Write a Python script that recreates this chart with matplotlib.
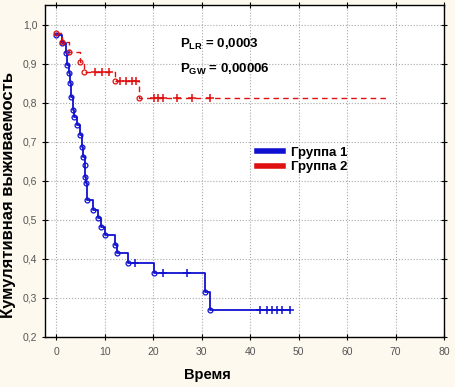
import numpy as np
import matplotlib
matplotlib.use("Agg")
import matplotlib.pyplot as plt
from matplotlib.lines import Line2D
from matplotlib.ticker import FuncFormatter

plt.rcParams['font.family'] = ['Liberation Sans', 'DejaVu Sans']
plt.rcParams['mathtext.fontset'] = 'custom'
plt.rcParams['mathtext.rm'] = 'Liberation Sans'
plt.rcParams['mathtext.bf'] = 'Liberation Sans:bold'

# ---- data ----
g1_time = [0, 1.2, 2.0, 2.3, 2.6, 2.9, 3.1, 3.4, 3.7, 4.3, 4.9, 5.3, 5.6, 5.9,
           6.0, 6.1, 6.3, 7.6, 8.7, 9.2, 10.1, 12.2, 12.5, 14.9, 20.1, 30.7, 31.8]
g1_surv = [0.975, 0.953, 0.927, 0.897, 0.876, 0.850, 0.816, 0.782, 0.765, 0.744,
           0.718, 0.688, 0.662, 0.641, 0.611, 0.594, 0.551, 0.525, 0.504, 0.483,
           0.462, 0.436, 0.415, 0.389, 0.363, 0.316, 0.269]
g1_end = 48.2
g1_cens = [16.3, 22.1, 26.9, 42.1, 43.4, 44.5, 45.5, 46.5, 48.2]

g2_time = [0, 1.3, 2.6, 5.0, 5.8, 12.2, 17.0]
g2_surv = [0.978, 0.955, 0.930, 0.905, 0.880, 0.855, 0.812]
g2_end = 68.5
g2_cens = [8.0, 9.4, 10.8, 13.2, 14.4, 15.6, 16.5, 20.1, 21.1, 22.1, 24.9, 28.0, 31.8]

x_ticks = [0, 10, 20, 30, 40, 50, 60, 70, 80]
y_ticks = [0.2, 0.3, 0.4, 0.5, 0.6, 0.7, 0.8, 0.9, 1.0]
labels = ['Группа 1', 'Группа 2']
p_texts = [r'$\mathbf{P_{LR}}$ = 0,0003', r'$\mathbf{P_{GW}}$ = 0,00006']
xlabel = 'Время'
ylabel = 'Кумулятивная выживаемость'

blue = '#1010d0'
red = '#e01010'

fig = plt.figure(figsize=(4.56, 3.87), dpi=100, facecolor='#fdf9ef')
ax = fig.add_axes([45/456, 50/387, 399/456, 332/387])
ax.set_facecolor('white')


def surv_at(times, surv, t):
    i = np.searchsorted(times, t, side='right') - 1
    return np.asarray(surv)[i]


def draw_curve(times, surv, end, cens, color, ls, lw):
    xs = list(times) + [end]
    ys = list(surv) + [surv[-1]]
    ax.step(xs, ys, where='post', color=color, ls=ls, lw=lw, zorder=3)
    ax.plot(times, surv, 'o', mfc='none', mec=color, ms=3.5, mew=0.9, zorder=4)
    cy = [surv_at(times, surv, c) for c in cens]
    ax.plot(cens, cy, '+', color=color, ms=6, mew=1.1, zorder=4)


draw_curve(g1_time, g1_surv, g1_end, g1_cens, blue, '-', 1.3)
draw_curve(g2_time, g2_surv, g2_end, g2_cens, red, (0, (4, 3)), 1.0)

ax.set_xlim(-2.3, 80)
ax.set_ylim(0.2, 1.051)
ax.set_xticks(x_ticks)
ax.set_yticks(y_ticks)
fmt = FuncFormatter(lambda v, p: ('%.1f' % v).replace('.', ','))
ax.yaxis.set_major_formatter(fmt)
ax.xaxis.set_major_formatter(FuncFormatter(lambda v, p: '%d' % v))
ax.tick_params(axis='both', labelsize=7.5, labelcolor='#555555', direction='inout',
               length=4, width=0.8, top=True, right=True)
ax.tick_params(axis='x', pad=5)
ax.grid(True, ls=':', color='#a8a8a8', lw=0.8)
for s in ax.spines.values():
    s.set_linewidth(1.0)
    s.set_color('black')

fig.text(207/456, 1 - 375/387, xlabel, fontsize=10.5, fontweight='bold',
         ha='center', va='center')
fig.text(9/456, 1 - 195/387, ylabel, fontsize=12, fontweight='bold',
         rotation=90, ha='center', va='center')

ax.text(25.6, 0.949, p_texts[0], fontsize=9.5, fontweight='bold', va='center', ha='left')
ax.text(25.6, 0.885, p_texts[1], fontsize=9.5, fontweight='bold', va='center', ha='left')

handles = [Line2D([0], [0], color=blue, lw=4),
           Line2D([0], [0], color=red, lw=4)]
ax.legend(handles, labels, loc='center left', bbox_to_anchor=(0.515, 0.533),
          frameon=False, handlelength=2.0, handletextpad=0.6, labelspacing=0.15,
          borderpad=0, prop={'weight': 'bold', 'size': 9.5})

fig.savefig('out.png', dpi=100, facecolor=fig.get_facecolor())
